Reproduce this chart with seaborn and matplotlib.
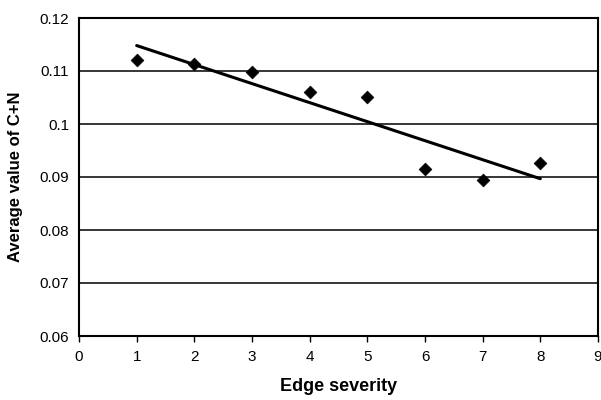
import matplotlib
matplotlib.use("Agg")
import matplotlib.pyplot as plt
import seaborn as sns
import pandas as pd

# Average C+N value for each edge severity level
severity = [1, 2, 3, 4, 5, 6, 7, 8]
avg_cn = [0.1121, 0.1113, 0.1098, 0.1060, 0.1051, 0.0916, 0.0894, 0.0926]

x_ticks = [0, 1, 2, 3, 4, 5, 6, 7, 8, 9]
y_ticks = [0.06, 0.07, 0.08, 0.09, 0.10, 0.11, 0.12]
y_tick_labels = ["0.06", "0.07", "0.08", "0.09", "0.1", "0.11", "0.12"]

df = pd.DataFrame({"severity": severity, "avg_cn": avg_cn})

sns.set_style("white")
plt.rcParams["font.family"] = ["Liberation Sans", "DejaVu Sans"]
plt.rcParams["text.color"] = "black"
plt.rcParams["axes.labelcolor"] = "black"
plt.rcParams["xtick.color"] = "black"
plt.rcParams["ytick.color"] = "black"

fig = plt.figure(figsize=(6.01, 4.00), dpi=100)
ax = fig.add_axes([79 / 601, 1 - 336 / 400, (598 - 79) / 601, (336 - 18) / 400])

# Linear trend line over the observed range
sns.regplot(data=df, x="severity", y="avg_cn", ax=ax, ci=None, truncate=True,
            scatter=False, line_kws={"color": "black", "lw": 2.2})
# Data points as diamonds
sns.scatterplot(data=df, x="severity", y="avg_cn", ax=ax, marker="D",
                s=42, color="black", edgecolor="black", zorder=4)

ax.set_xlim(0, 9)
ax.set_ylim(0.06, 0.12)
ax.set_xticks(x_ticks)
ax.set_yticks(y_ticks)
ax.set_yticklabels(y_tick_labels)

ax.yaxis.grid(True, color="black", lw=1.1)
ax.set_axisbelow(True)
for sp in ax.spines.values():
    sp.set_visible(True)
    sp.set_color("black")
    sp.set_linewidth(1.5)

ax.tick_params(axis="x", direction="out", length=4, width=1, color="black",
               labelsize=11, pad=6, labelcolor="black")
ax.tick_params(axis="y", direction="out", length=0, labelsize=11, pad=7,
               labelcolor="black")
ax.tick_params(bottom=True, left=False)

ax.set_xlabel("Edge severity", fontsize=13, fontweight="bold", labelpad=10,
              color="black")
ax.set_ylabel("Average value of C+N", fontsize=12, fontweight="bold", labelpad=12,
              color="black")

fig.savefig("out.png", dpi=100)
